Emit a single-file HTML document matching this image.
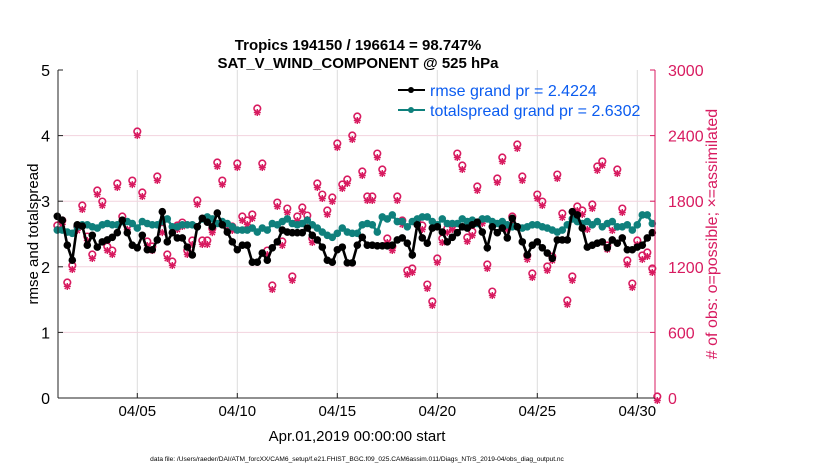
<!DOCTYPE html>
<html><head><meta charset="utf-8"><style>
body{margin:0;background:#fff;}
svg{display:block;font-family:"Liberation Sans",sans-serif;}
</style></head><body>
<svg id="c" width="830" height="470" viewBox="0 0 830 470">
<g id="grid"></g><g id="marks"></g><g id="axes"></g>
<text x="358" y="50" text-anchor="middle" font-size="15" font-weight="bold">Tropics 194150 / 196614 = 98.747%</text>
<text x="358" y="68" text-anchor="middle" font-size="15" font-weight="bold">SAT_V_WIND_COMPONENT @ 525 hPa</text>
<text x="357" y="441" text-anchor="middle" font-size="15">Apr.01,2019 00:00:00 start</text>
<text x="357" y="461" text-anchor="middle" font-size="6.6">data file: /Users/raeder/DAI/ATM_forcXX/CAM6_setup/f.e21.FHIST_BGC.f09_025.CAM6assim.011/Diags_NTrS_2019-04/obs_diag_output.nc</text>
<text transform="translate(38,234) rotate(-90)" text-anchor="middle" font-size="15">rmse and totalspread</text>
<text transform="translate(717,234) rotate(-90)" text-anchor="middle" font-size="16" fill="#d81b60"># of obs: o=possible; ×=assimilated</text>
<g>
<line x1="398" y1="90" x2="425" y2="90" stroke="#000" stroke-width="2"/>
<circle cx="411" cy="90" r="3" fill="#000"/>
<text x="430" y="96" font-size="16" fill="#0b5cf0">rmse grand pr = 2.4224</text>
<line x1="398" y1="110" x2="425" y2="110" stroke="#0f807c" stroke-width="2"/>
<circle cx="411" cy="110" r="3" fill="#0f807c"/>
<text x="430" y="116" font-size="16" fill="#0b5cf0">totalspread grand pr = 2.6302</text>
</g>
</svg>
<script>
const rmse=[2.77,2.71,2.33,2.10,2.64,2.62,2.33,2.48,2.30,2.38,2.41,2.45,2.52,2.71,2.52,2.33,2.29,2.48,2.26,2.26,2.41,2.84,2.38,2.52,2.44,2.44,2.30,2.18,2.61,2.74,2.68,2.61,2.82,2.64,2.53,2.38,2.26,2.33,2.33,2.07,2.07,2.21,2.10,2.29,2.38,2.56,2.53,2.52,2.52,2.52,2.59,2.48,2.41,2.30,2.10,2.07,2.26,2.30,2.06,2.06,2.33,2.45,
2.33,2.33,2.32,2.32,2.32,2.33,2.41,2.44,2.36,2.18,2.64,2.44,2.36,2.59,2.61,2.53,2.38,2.45,2.52,2.61,2.59,2.64,2.68,2.53,2.29,2.61,2.52,2.59,2.44,2.74,2.61,2.38,2.18,2.33,2.38,2.29,2.21,2.13,2.41,2.41,2.41,2.84,2.79,2.59,2.30,2.33,2.36,2.38,2.29,2.41,2.36,2.44,2.26,2.26,2.30,2.33,2.44,2.52];
const spread=[2.56,2.56,2.53,2.51,2.61,2.64,2.64,2.61,2.59,2.64,2.66,2.64,2.64,2.69,2.69,2.66,2.59,2.69,2.66,2.64,2.64,2.69,2.73,2.61,2.61,2.64,2.64,2.64,2.61,2.73,2.76,2.73,2.66,2.69,2.66,2.61,2.56,2.56,2.56,2.59,2.53,2.59,2.56,2.66,2.64,2.69,2.73,2.66,2.64,2.66,2.71,2.64,2.59,2.53,2.48,2.45,2.51,2.59,2.53,2.51,2.51,2.64,
2.66,2.64,2.53,2.76,2.73,2.79,2.69,2.69,2.61,2.69,2.73,2.76,2.76,2.69,2.64,2.73,2.66,2.66,2.66,2.73,2.69,2.71,2.66,2.73,2.73,2.69,2.66,2.69,2.64,2.61,2.61,2.59,2.61,2.64,2.64,2.61,2.59,2.56,2.53,2.56,2.64,2.73,2.69,2.66,2.69,2.64,2.69,2.61,2.66,2.69,2.61,2.61,2.64,2.56,2.64,2.79,2.79,2.66];
const obs=[1564,1610,1043,1198,1555,1747,1463,1299,1884,1783,1372,1335,1948,1646,1564,1975,2424,1866,1418,1372,2012,1536,1299,1235,1564,1591,1335,1427,1793,1427,1427,1536,2140,1975,1564,1555,2131,1646,1610,1665,2634,2131,1335,1015,1774,1418,1719,1098,1646,1729,1655,1445,1948,1847,1701,1820,2314,1939,1985,2387,2561,2058,
1829,1829,2222,2076,1445,1372,1829,1610,1152,1171,1610,1564,1024,869,1262,1445,1536,1564,2222,2113,1454,1509,1921,1619,1207,960,1994,2186,1564,1646,2305,2012,1290,1125,1847,1783,1189,1280,2030,1674,878,1098,1738,1701,1564,1756,2104,2150,1381,1555,2076,1719,1244,1033,1427,1290,1317,1171,0];
const leftTicks=[0,1,2,3,4,5];
const rightTicks=[0,600,1200,1800,2400,3000];
const xTickDays=[4,9,14,19,24,29];
const xTickLabels=["04/05","04/10","04/15","04/20","04/25","04/30"];
const stepDays=0.25;

const X0=57.3,PXD=20,L=58,R=655,T=70,B=398;
const xs=d=>X0+PXD*d;
const yl=v=>B-(B-T)*v/5;
const yr=v=>B-(B-T)*v/3000;
const NS="http://www.w3.org/2000/svg";
function mk(p,tag,a){const e=document.createElementNS(NS,tag);for(const k in a)e.setAttribute(k,a[k]);p.appendChild(e);return e;}
const grid=document.getElementById('grid'),marks=document.getElementById('marks'),axes=document.getElementById('axes');
xTickDays.forEach((d,i)=>{
  const g=mk(grid,'line',{x1:xs(d),x2:xs(d),y1:T,y2:B,stroke:'#dcdcdc','stroke-width':1});
  
  
  const t=mk(axes,'text',{x:xs(d),y:B+18,'text-anchor':'middle','font-size':15});
  t.textContent=xTickLabels[i];
  
  
  const tk=mk(axes,'line',{x1:xs(d),x2:xs(d),y1:B,y2:B-5,stroke:'#222'});
  
  
});
rightTicks.forEach(v=>{
  const y=yr(v);
  if(v>0&&v<3000){const g=mk(grid,'line',{x1:L,x2:R,y1:y,y2:y,stroke:'#f2d3de','stroke-width':1});
  
  }
  const t=mk(axes,'text',{x:R+13,y:y+6,'font-size':16,fill:'#d81b60'});
  t.textContent=v;
  
  
  const tk=mk(axes,'line',{x1:R,x2:R-5,y1:y,y2:y,stroke:'#d81b60'});
  
  
});
leftTicks.forEach(v=>{
  const y=yl(v);
  const t=mk(axes,'text',{x:L-8,y:y+6,'text-anchor':'end','font-size':16});
  t.textContent=v;
  
  
  const tk=mk(axes,'line',{x1:L,x2:L+5,y1:y,y2:y,stroke:'#222'});
  
  
});
const la=mk(axes,'line',{x1:L,x2:L,y1:T,y2:B,stroke:'#222'});


const ba=mk(axes,'line',{x1:L,x2:R,y1:B,y2:B,stroke:'#222'});


const ra=mk(axes,'line',{x1:R,x2:R,y1:T,y2:B,stroke:'#d81b60'});



obs.forEach((v,i)=>{
  const x=xs(i*stepDays),y=yr(v);
  const c=mk(marks,'circle',{cx:x,cy:y-1.5,r:3.3,fill:'none',stroke:'#d81b60','stroke-width':1.6});
  
  
  const yy=y+2.5;
  const d=`M${x-3.5},${yy}H${x+3.5}M${x},${yy-3.5}V${yy+3.5}M${x-2.6},${yy-2.6}L${x+2.6},${yy+2.6}M${x-2.6},${yy+2.6}L${x+2.6},${yy-2.6}`;
  const s=mk(marks,'path',{d:d,stroke:'#d81b60','stroke-width':1.4,fill:'none'});
  
  
});
function series(arr,col,name){
  const pts=arr.map((v,i)=>xs(i*stepDays).toFixed(1)+','+yl(v).toFixed(1)).join(' ');
  const pl=mk(marks,'polyline',{points:pts,fill:'none',stroke:col,'stroke-width':2.6});
  
  
  arr.forEach((v,i)=>{
    const c=mk(marks,'circle',{cx:xs(i*stepDays),cy:yl(v),r:3.8,fill:col});
    
    
  });
}
series(spread,'#0f807c','totalspread');
series(rmse,'#000','rmse');
</script>
</body></html>
